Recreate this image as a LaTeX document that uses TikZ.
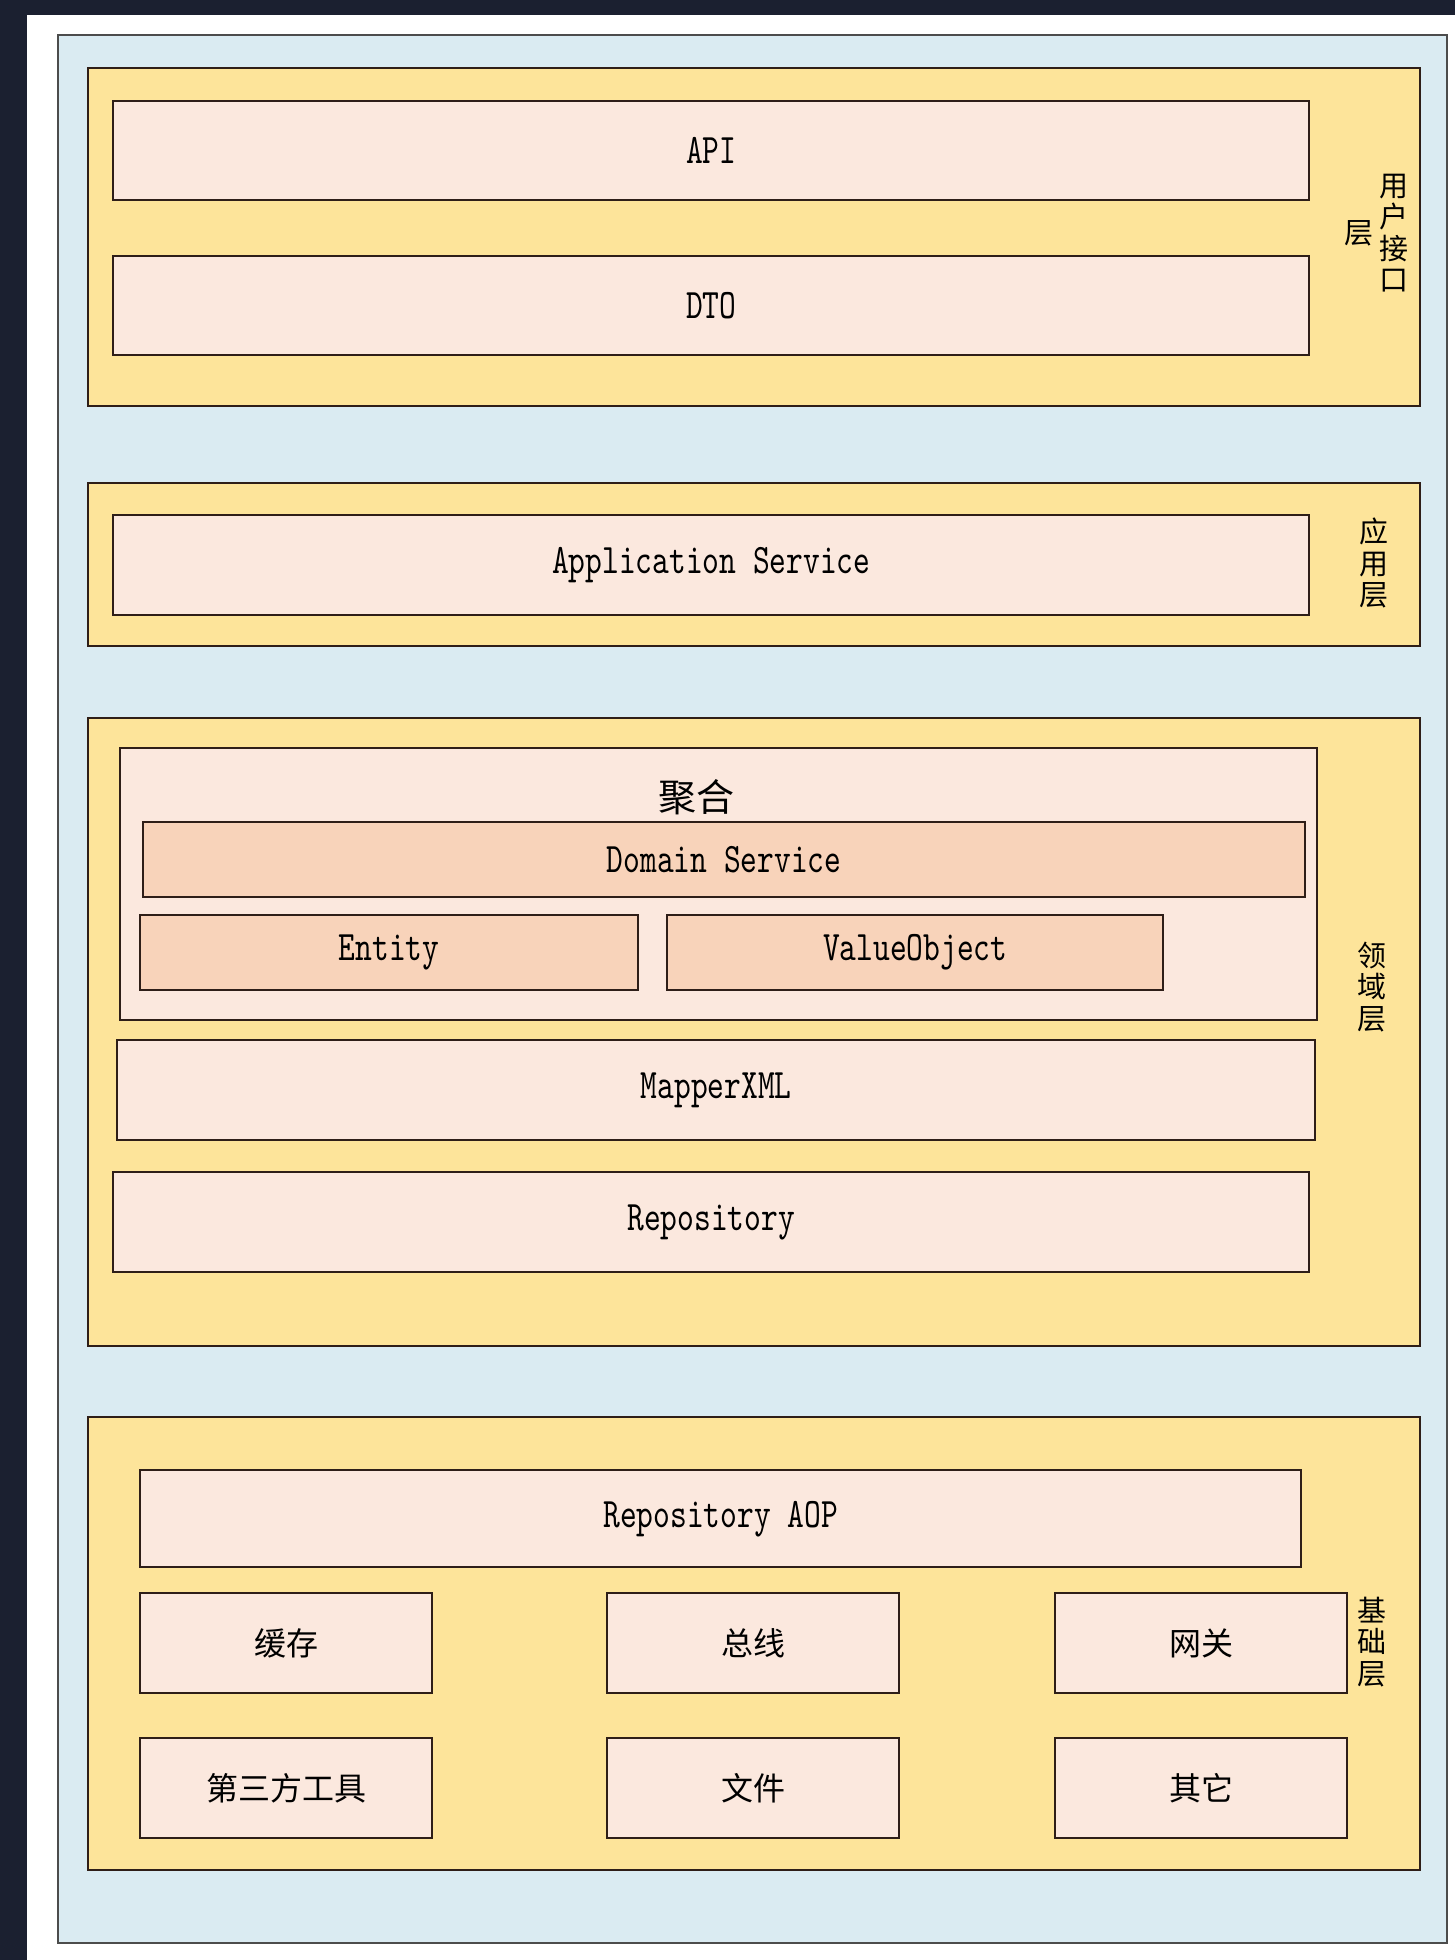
\documentclass[tikz,border=0pt]{standalone}
\usepackage{fontspec}
\newfontfamily\cjk{Noto Sans CJK SC}
\newfontfamily\codefont{lmmono10-regular.otf}[FakeStretch=0.76]
\usepackage{tikz}
\usetikzlibrary{positioning}
\definecolor{navy}{HTML}{1B2030}
\definecolor{paleblue}{HTML}{DAEBF2}
\definecolor{layeryellow}{HTML}{FDE49A}
\definecolor{cellpink}{HTML}{FBE8DE}
\definecolor{corepeach}{HTML}{F8D3BA}
\definecolor{edge}{HTML}{2E1E18}
\tikzset{
  layer/.style={draw=edge, fill=layeryellow, line width=2.4pt, inner sep=0pt, anchor=north west},
  cell/.style={draw=edge, fill=cellpink, line width=2.4pt, inner sep=0pt, anchor=north west,
    font=\codefont\fontsize{42}{44}\selectfont},
  core/.style={cell, fill=corepeach},
  cncell/.style={cell, font=\cjk\fontsize{32}{34}\selectfont},
  sidelabel/.style={font=\cjk\fontsize{29}{31.5}\selectfont, align=center, inner sep=0pt},
  wh/.style 2 args={minimum width=#1pt, minimum height=#2pt},
}

\begin{document}
\begin{tikzpicture}[x=1pt, y=-1pt]
    \useasboundingbox (0,0) rectangle (1455,1960);
    \fill[navy] (0,0) rectangle (1455,1960);
    \fill[white] (27,15) rectangle (1455,1960);
    \draw[draw=black!70, fill=paleblue, line width=2.4pt] (58,35) rectangle (1447,1943);

    \node[layer, wh={1332}{338}] (ui) at (87,67) {};
    \node[layer, wh={1332}{163}] (app) at (87,482) {};
    \node[layer, wh={1332}{628}] (domain) at (87,717) {};
    \node[layer, wh={1332}{453}] (infra) at (87,1416) {};

    \node[cell, wh={1196}{99}] (api) at (112,100) {API};
    \node[cell, wh={1196}{99}] (dto) at (112,255) {DTO};
    \node[sidelabel] (uilabel) at (1394,233) {用\\户\\接\\口};
    \node[sidelabel, left=6pt of uilabel] (uilayer) {层};

    \node[cell, wh={1196}{100}] (appsvc) at (112,514) {Application Service};
    \node[sidelabel] (applabel) at (1374,563) {应\\用\\层};

    \node[cell, wh={1197}{272}] (aggregate) at (119,747) {};
    \node[font=\cjk\fontsize{38}{40}\selectfont, inner sep=0pt] (aggtitle) at (696,797) {聚合};
    \node[core, wh={1162}{75}] (domainsvc) at (142,821) {Domain Service};
    \node[core, wh={498}{75}] (entity) at (139,914) {Entity};
    \node[core, wh={496}{75}] (valueobj) at (666,914) {ValueObject};
    \node[cell, wh={1198}{100}] (mapper) at (116,1039) {MapperXML};
    \node[cell, wh={1196}{100}] (repo) at (112,1171) {Repository};
    \node[sidelabel] (domlabel) at (1372,987) {领\\域\\层};

    \node[cell, wh={1161}{97}] (aop) at (139,1469) {Repository AOP};
    \foreach \name/\txt/\x/\y in {cache/缓存/139/1592, bus/总线/606/1592, gateway/网关/1054/1592,
        tools/第三方工具/139/1737, files/文件/606/1737, other/其它/1054/1737}
        \node[cncell, wh={292}{100}] (\name) at (\x,\y) {\txt};
    \node[sidelabel] (infralabel) at (1372,1642) {基\\础\\层};
\end{tikzpicture}
\end{document}
